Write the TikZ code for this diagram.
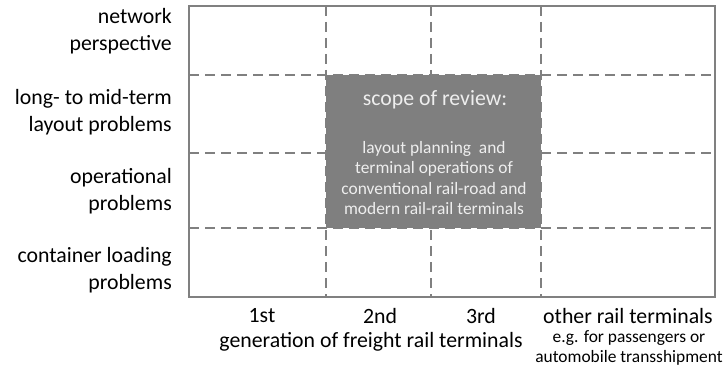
\documentclass[tikz,border=0pt]{standalone}
\usepackage{fontspec}
\setmainfont{Carlito}
\definecolor{gridgray}{HTML}{808080}
\definecolor{scopegray}{HTML}{7F7F7F}
\definecolor{scopetext}{HTML}{EEEEEE}
\begin{document}
\begin{tikzpicture}[x=1pt,y=-1pt]
	\tikzstyle{rowlabel}=[anchor=east,align=right,font=\fontsize{21.8}{27}\selectfont,inner sep=0pt]
	\tikzstyle{collabel}=[align=center,font=\fontsize{21.8}{26}\selectfont,inner sep=0pt]
	\tikzstyle{smalllabel}=[align=center,font=\fontsize{17.4}{20.5}\selectfont,inner sep=0pt]
	\tikzstyle{gridline}=[draw=gridgray,line width=2pt,dash pattern=on 10pt off 6pt]
	\useasboundingbox (0,0) rectangle (724,369);
	% grid
	\foreach \x in {326,431,541}
		\path[gridline] (\x,6) -- (\x,297);
	\foreach \y in {75,153,228}
		\path[gridline] (189,\y) -- (715,\y);
	\fill[scopegray] (326,75) rectangle (541,228);
	\draw[gridgray,line width=2.5pt] (189,6) rectangle (715,297);
	% scope
	\node [collabel,text=scopetext] (scope) at (435,100) {scope of review:};
	\node [smalllabel,text=scopetext] (scopetxt) at (434,178) {layout planning\ \ and\\terminal operations of\\conventional rail-road and\\modern rail-rail terminals};
	% rows
	\node [rowlabel] (r1) at (172,31) {network\\perspective};
	\node [rowlabel] (r2) at (172,112) {long- to mid-term\\layout problems};
	\node [rowlabel] (r3) at (172,191) {operational\ \\problems};
	\node [rowlabel] (r4) at (172,270) {container loading\\problems};
	% columns
	\node [collabel] (c1) at (262,316) {1st};
	\node [collabel] (c2) at (380,316) {2nd};
	\node [collabel] (c3) at (481,316) {3rd};
	\node [collabel] (c4) at (628,316) {other rail terminals};
	\node [collabel] (gen) at (371,342) {generation of freight rail terminals};
	\node [smalllabel] (c4txt) at (629,348) {e.g. for passengers or\\automobile transshipment};
\end{tikzpicture}
\end{document}
